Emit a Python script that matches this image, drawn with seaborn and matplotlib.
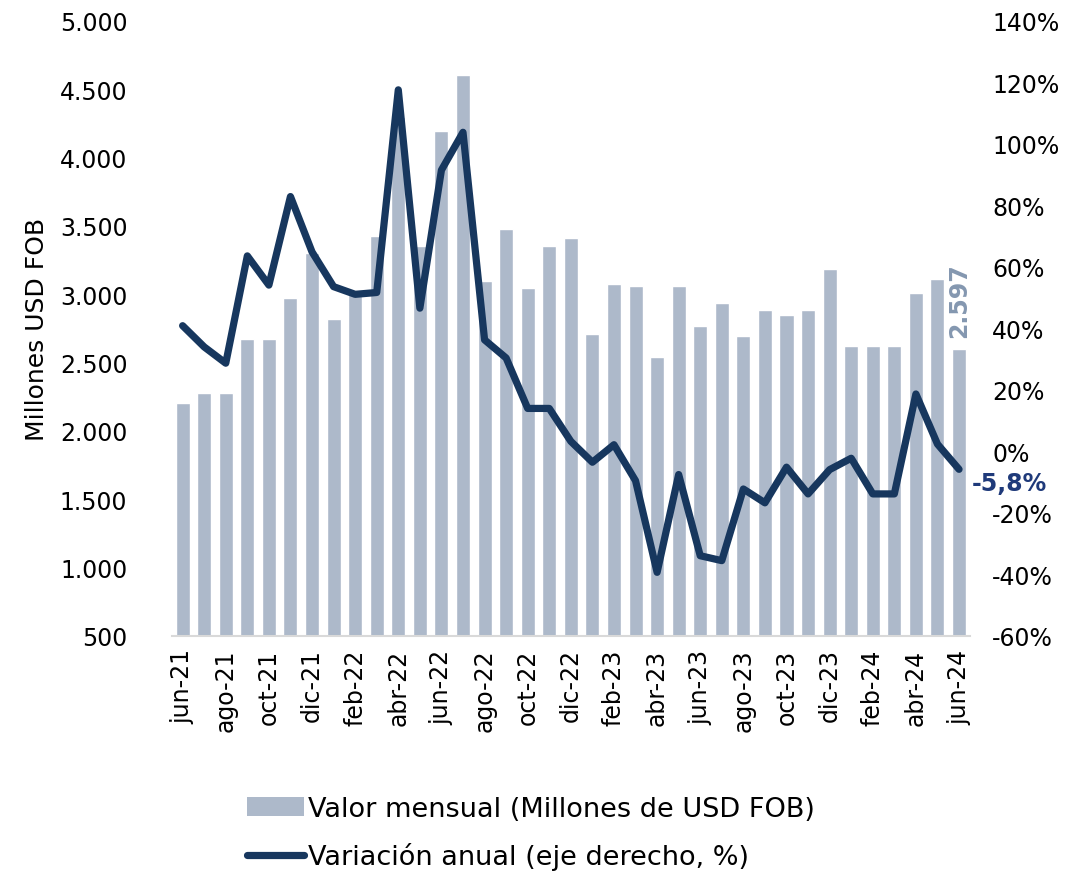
import matplotlib
matplotlib.use("Agg")
import matplotlib.pyplot as plt
from matplotlib.patches import Patch
from matplotlib.lines import Line2D
import seaborn as sns
import pandas as pd
import numpy as np

# meses (jun-21 a jun-24)
meses = ["jun-21", "jul-21", "ago-21", "sep-21", "oct-21", "nov-21", "dic-21",
         "ene-22", "feb-22", "mar-22", "abr-22", "may-22", "jun-22", "jul-22",
         "ago-22", "sep-22", "oct-22", "nov-22", "dic-22",
         "ene-23", "feb-23", "mar-23", "abr-23", "may-23", "jun-23", "jul-23",
         "ago-23", "sep-23", "oct-23", "nov-23", "dic-23",
         "ene-24", "feb-24", "mar-24", "abr-24", "may-24", "jun-24"]

# valor mensual, millones USD FOB
valor = [2207, 2276, 2276, 2676, 2676, 2974, 3299,
         2816, 3000, 3428, 4300, 3355, 4195, 4608,
         3097, 3479, 3045, 3357, 3411,
         2713, 3079, 3062, 2540, 3062, 2767, 2938,
         2696, 2887, 2852, 2887, 3182,
         2625, 2625, 2625, 3008, 3113, 2597]

# variacion anual, %
variacion = [40.9, 34.0, 28.7, 63.6, 54.1, 82.9, 64.9,
             53.6, 51.1, 51.7, 117.6, 46.6, 91.5, 103.8,
             36.3, 30.4, 14.0, 14.0, 3.3,
             -3.5, 2.2, -9.5, -39.3, -7.5, -33.9, -35.5,
             -12.2, -16.7, -5.1, -13.8, -5.9,
             -2.2, -13.8, -13.8, 18.7, 2.4, -5.8]

bar_color = "#adb9ca"
line_color = "#17375e"

df = pd.DataFrame({"mes": meses, "valor": valor, "variacion": variacion,
                   "pos": np.arange(len(meses))})

sns.set_style("white")
plt.rcParams["font.family"] = ["DejaVu Sans"]
plt.rcParams["text.color"] = "black"
plt.rcParams["axes.labelcolor"] = "black"

fig = plt.figure(figsize=(10.74, 8.78), dpi=100)
ax = fig.add_axes([0.160, 0.2745, 0.743, 0.7005])

sns.barplot(data=df, x="pos", y="valor", color=bar_color, width=0.65,
            saturation=1, ax=ax)
ax.set_xlim(-0.5, len(meses) - 0.5)
ax.set_ylim(500, 5000)
ax.set_yticks(np.arange(500, 5001, 500))
ax.set_yticklabels([f"{v:,.0f}".replace(",", ".") for v in np.arange(500, 5001, 500)],
                   fontsize=17)
ax.set_ylabel("Millones USD FOB", fontsize=18, labelpad=8)
ax.set_xlabel("")

# etiquetas cada 2 meses, marcas entre barras
ax.set_xticks(np.arange(0, len(meses), 2))
ax.set_xticklabels(meses[::2], rotation=90, fontsize=17)
ax.set_xticks(np.arange(-0.5, len(meses), 2), minor=True)
ax.tick_params(axis="x", which="major", length=0, pad=9, labelcolor="black")
ax.tick_params(axis="x", which="minor", length=8, color="#d9d9d9", width=1.5)
ax.tick_params(axis="y", length=0, pad=32, labelcolor="black")

for s in ["top", "left", "right"]:
    ax.spines[s].set_visible(False)
ax.spines["bottom"].set_color("#d9d9d9")
ax.spines["bottom"].set_linewidth(1.5)

ax2 = ax.twinx()
sns.lineplot(data=df, x="pos", y="variacion", color=line_color, linewidth=5.2,
             ax=ax2, legend=False)
ax2.set_ylim(-60, 140)
ax2.set_yticks(np.arange(-60, 141, 20))
ax2.set_yticklabels([f"{v:.0f}%" for v in np.arange(-60, 141, 20)], fontsize=17)
ax2.tick_params(axis="y", length=0, pad=16, labelcolor="black")
ax2.set_ylabel("")
for s in ["top", "left", "right", "bottom"]:
    ax2.spines[s].set_visible(False)
ax2.set_xlim(-0.5, len(meses) - 0.5)

# etiquetas del ultimo dato
last = len(meses) - 1
ax.text(last, valor[-1] + 90, "2.597", rotation=90, ha="center", va="bottom",
        fontsize=17, fontweight="bold", color="#8497b0")
ax2.text(last + 0.6, variacion[-1] - 4.5, "-5,8%", ha="left", va="center",
         fontsize=17, fontweight="bold", color="#1f3a7a")

handles = [Patch(facecolor=bar_color, edgecolor="none"),
           Line2D([0], [0], color=line_color, linewidth=5.2)]
labels = ["Valor mensual (Millones de USD FOB)", "Variación anual (eje derecho, %)"]
fig.legend(handles, labels, loc="lower left", bbox_to_anchor=(0.207, -0.02),
           frameon=False, fontsize=19.5, handlelength=2.1, handletextpad=0.15,
           labelspacing=0.75)

fig.savefig("out.png", dpi=100)
